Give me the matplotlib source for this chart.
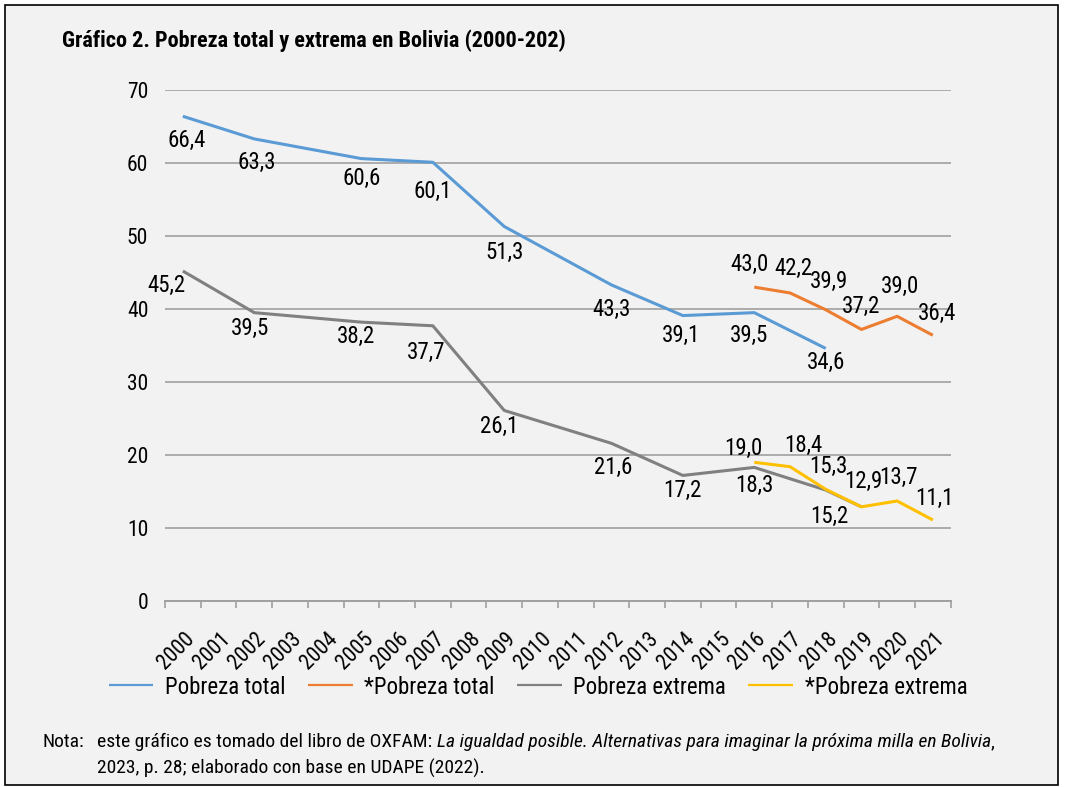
import matplotlib
matplotlib.use("Agg")
import matplotlib.pyplot as plt
from matplotlib.patches import Rectangle
from matplotlib.transforms import ScaledTranslation

plt.rcParams['font.family'] = ['Roboto Condensed', 'Liberation Sans', 'DejaVu Sans']

years = ['2000', '2001', '2002', '2003', '2004', '2005', '2006', '2007', '2008', '2009', '2010',
         '2011', '2012', '2013', '2014', '2015', '2016', '2017', '2018', '2019', '2020', '2021']

# None = no dato para ese año (la línea une los puntos existentes)
pobreza_total = [66.4, None, 63.3, None, None, 60.6, None, 60.1, None, 51.3, None,
                 None, 43.3, None, 39.1, None, 39.5, None, 34.6, None, None, None]
pobreza_total_nueva = [None, None, None, None, None, None, None, None, None, None, None,
                       None, None, None, None, None, 43.0, 42.2, 39.9, 37.2, 39.0, 36.4]
pobreza_extrema = [45.2, None, 39.5, None, None, 38.2, None, 37.7, None, 26.1, None,
                   None, 21.6, None, 17.2, None, 18.3, None, 15.2, 12.9, None, None]
pobreza_extrema_nueva = [None, None, None, None, None, None, None, None, None, None, None,
                         None, None, None, None, None, 19.0, 18.4, 15.3, 12.9, 13.7, 11.1]

# desplazamiento de etiquetas en pixeles (dx, dy hacia abajo), None = sin etiqueta
off_total = [(4, 24), (2, 24), (0, 20), (0, 29), (0, 26), (0, 25), (-2, 20), (-5, 23), (0, 14)]
off_total_nueva = [(-5, -23), (3, -24), (3, -28), (0, -23), (3, -30), (4, -22)]
off_extrema = [(-16, 14), (-4, 16), (-5, 14), (-7, 27), (-5, 16), (2, 24), (0, 15), (0, 18), (4, 26), None]
off_extrema_nueva = [(-11, -14), (13, -21), (3, -23), (2, -25), (1, -24), (2, -22)]

BG = '#f2f2f2'
PX = 0.72  # puntos por pixel a 100 dpi


def draw_series(ax, values, color, label, offsets):
    xs = [i for i, v in enumerate(values) if v is not None]
    ys = [v for v in values if v is not None]
    ax.plot(xs, ys, color=color, lw=2.2, label=label, solid_capstyle='butt', zorder=3)
    for x, y, off in zip(xs, ys, offsets):
        if off is None:
            continue
        ax.annotate(f"{y:.1f}".replace('.', ','), (x, y),
                    xytext=(off[0] * PX, -off[1] * PX), textcoords='offset points',
                    ha='center', va='center', fontsize=16.5, color='black', zorder=4)


def main():
    fig = plt.figure(figsize=(10.65, 7.87), dpi=100)
    fig.patch.set_facecolor('white')
    fig.patches.append(Rectangle((5 / 1065, 0.002), 1053 / 1065, 1 - 7 / 787,
                                 transform=fig.transFigure, facecolor=BG,
                                 edgecolor='black', lw=1.2, zorder=-10))

    ax = fig.add_axes([165 / 1065, 1 - 601 / 787, 785.7 / 1065, 511 / 787])
    ax.patch.set_visible(False)

    draw_series(ax, pobreza_total, '#5b9bd5', 'Pobreza total', off_total)
    draw_series(ax, pobreza_total_nueva, '#ed7d31', '*Pobreza total', off_total_nueva)
    draw_series(ax, pobreza_extrema, '#808080', 'Pobreza extrema', off_extrema)
    draw_series(ax, pobreza_extrema_nueva, '#ffc000', '*Pobreza extrema', off_extrema_nueva)

    ax.set_ylim(0, 70)
    ax.set_xlim(-0.5, len(years) - 0.5)
    ax.set_yticks(range(0, 71, 10))
    ax.grid(axis='y', color='#a0a0a0', lw=1.2, zorder=1)
    ax.set_axisbelow(True)
    for s in ['left', 'right', 'top']:
        ax.spines[s].set_visible(False)
    ax.spines['bottom'].set_color('#a0a0a0')
    ax.spines['bottom'].set_linewidth(1.4)

    ax.set_xticks(range(len(years)))
    ax.set_xticklabels(years, rotation=45, ha='right', va='top', rotation_mode='anchor')
    ax.set_xticks([i - 0.5 for i in range(len(years) + 1)], minor=True)
    ax.tick_params(axis='x', which='major', length=0, pad=20, labelsize=15.5)
    ax.tick_params(axis='x', which='minor', length=5, width=1.2, color='#a0a0a0')
    for t in ax.get_xticklabels():
        t.set_transform(t.get_transform() + ScaledTranslation(1 / 100, 0, fig.dpi_scale_trans))
    ax.tick_params(axis='y', length=0, pad=12, labelsize=15.5)

    leg = fig.legend(loc='center', bbox_to_anchor=(538 / 1065, 1 - 687 / 787), ncol=4,
                     frameon=False, fontsize=16.5, handlelength=1.96, handletextpad=0.52,
                     columnspacing=0.95)
    for h in leg.get_lines():
        h.set_linewidth(1.6)

    fig.text(62 / 1065, 1 - 47 / 787, 'Gráfico 2. Pobreza total y extrema en Bolivia (2000-202)',
             fontsize=16, fontweight='bold', ha='left', va='baseline')

    # nota al pie con parte en cursiva
    r = fig.canvas.get_renderer()
    fs = 14
    y1 = 1 - 747 / 787
    y2 = 1 - 774 / 787
    fig.text(42 / 1065, y1, 'Nota:', fontsize=fs, va='baseline')
    t1 = fig.text(97 / 1065, y1, 'este gráfico es tomado del libro de OXFAM: ',
                  fontsize=fs, va='baseline')
    bb = t1.get_window_extent(r)
    t2 = fig.text(bb.x1 / 1065, y1,
                  'La igualdad posible. Alternativas para imaginar la próxima milla en Bolivia',
                  fontsize=fs, style='italic', va='baseline')
    bb = t2.get_window_extent(r)
    fig.text(bb.x1 / 1065, y1, ',', fontsize=fs, va='baseline')
    fig.text(97 / 1065, y2, '2023, p. 28; elaborado con base en UDAPE (2022).',
             fontsize=fs, va='baseline')

    fig.savefig('out.png', dpi=100, facecolor='white')


if __name__ == '__main__':
    main()
